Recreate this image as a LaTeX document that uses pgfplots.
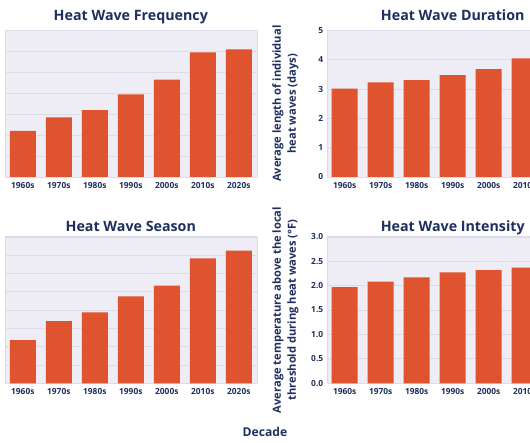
\documentclass[border=0pt]{standalone}
\usepackage{pgfplots}
\pgfplotsset{compat=1.18}
\usepackage{fontspec}
\setmainfont{Open Sans}
\definecolor{barc}{HTML}{E0532F}
\definecolor{bgc}{HTML}{EEEDF6}
\definecolor{gridc}{HTML}{DCDBE8}
\definecolor{navy}{HTML}{1E2F5E}
\pgfplotsset{
 panel/.style={
  scale only axis, width=252bp, height=146.5bp,
  ybar, bar width=26bp,
  xmin=-0.5, xmax=6.5, ymin=0,
  xtick={0,...,6}, xticklabels={1960s,1970s,1980s,1990s,2000s,2010s,2020s},
  axis background/.style={fill=bgc},
  axis line style={draw=gridc},
  ymajorgrids, grid style={gridc, line width=0.8bp},
  major tick length=2bp, xtick style={draw=none}, ytick style={gridc},
  tick label style={font=\fontsize{8.4}{10}\selectfont\bfseries, text=navy},
  /pgf/number format/assume math mode=true,
  title style={font=\fontsize{14.3}{17}\selectfont\bfseries, text=navy, at={(axis description cs:0.5,1)}, anchor=base},
  ylabel style={font=\fontsize{11.2}{15}\selectfont\bfseries, text=navy, align=center, at={(axis description cs:-0.1635,0.5)}, anchor=center, rotate=0},
 }
}
\begin{document}
\begin{tikzpicture}
\useasboundingbox (0,0) rectangle (530bp,443bp);
\clip (0,0) rectangle (530bp,443bp);
% Frequency
\begin{axis}[panel, at={(4.8bp,266bp)}, anchor=south west, ymax=7, ytick={0,1,...,7}, yticklabels={},
  title={Heat Wave Frequency}, title style={yshift=4bp}]
\addplot[fill=barc, draw=none] coordinates {(0,2.2) (1,2.85) (2,3.2) (3,3.95) (4,4.65) (5,5.95) (6,6.1)};
\end{axis}
% Duration
\begin{axis}[panel, at={(326.7bp,266bp)}, anchor=south west, ymax=5, ytick={0,1,...,5},
  title={Heat Wave Duration}, title style={yshift=4bp}, ylabel={Average length of individual\\heat waves (days)}]
\addplot[fill=barc, draw=none] coordinates {(0,3.02) (1,3.23) (2,3.31) (3,3.48) (4,3.68) (5,4.05) (6,4.0)};
\end{axis}
% Season
\begin{axis}[panel, at={(4.8bp,59.7bp)}, anchor=south west, ymax=80, ytick={0,10,...,80}, yticklabels={},
  title={Heat Wave Season}, title style={yshift=-1bp}]
\addplot[fill=barc, draw=none] coordinates {(0,23.6) (1,34.0) (2,38.7) (3,47.5) (4,53.3) (5,68.2) (6,72.5)};
\end{axis}
% Intensity
\begin{axis}[panel, at={(326.7bp,59.7bp)}, anchor=south west, ymax=3, ytick={0,0.5,...,3},
  yticklabel style={/pgf/number format/fixed, /pgf/number format/fixed zerofill, /pgf/number format/precision=1},
  title={Heat Wave Intensity}, title style={yshift=-1bp}, ylabel={Average temperature above the local\\threshold during heat waves (°F)}]
\addplot[fill=barc, draw=none] coordinates {(0,1.97) (1,2.08) (2,2.17) (3,2.27) (4,2.32) (5,2.37) (6,2.4)};
\end{axis}
\node[font=\fontsize{12.2}{15}\selectfont\bfseries, text=navy] at (265bp,11bp) {Decade};
\end{tikzpicture}
\end{document}
